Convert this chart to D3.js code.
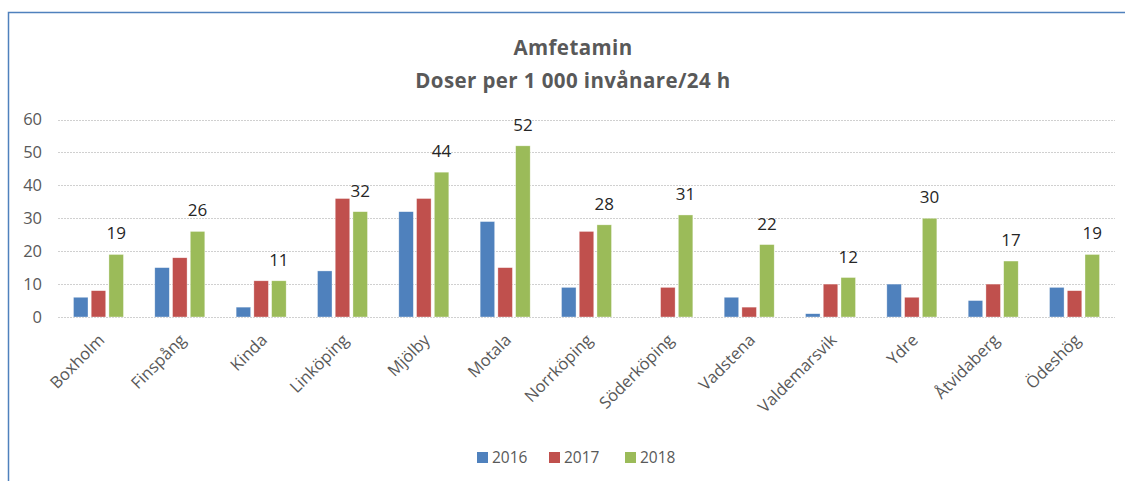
<!DOCTYPE html>
<html>
<head>
<meta charset="utf-8">
<script src="https://cdn.jsdelivr.net/npm/d3@7"></script>
<style>
  body { margin: 0; background: #fff; }
  svg { display: block; font-family: "Open Sans", sans-serif; }
</style>
</head>
<body>
<script>
// kommuner och värden (doser per 1 000 invånare/24 h)
var categories = ["Boxholm", "Finspång", "Kinda", "Linköping", "Mjölby", "Motala",
  "Norrköping", "Söderköping", "Vadstena", "Valdemarsvik", "Ydre", "Åtvidaberg", "Ödeshög"];
var years = ["2016", "2017", "2018"];
var v2016 = [6, 15, 3, 14, 32, 29, 9, 0, 6, 1, 10, 5, 9];
var v2017 = [8, 18, 11, 36, 36, 15, 26, 9, 3, 10, 6, 10, 8];
var v2018 = [19, 26, 11, 32, 44, 52, 28, 31, 22, 12, 30, 17, 19];
var yTicks = [0, 10, 20, 30, 40, 50, 60];
var colors = ["#4F81BD", "#C0504D", "#9BBB59"];

var series = [v2016, v2017, v2018];

var width = 1125, height = 481;
var margin = {left: 58, right: 10};

var svg = d3.select("body").append("svg")
  .attr("width", width)
  .attr("height", height);

// ram runt diagrammet (bara topp och vänster syns)
svg.append("path")
  .attr("d", "M8.5,481 L8.5,12.5 L1125,12.5")
  .attr("fill", "none")
  .attr("stroke", "#4F81BD")
  .attr("stroke-width", 1.5);

// titel
var title = svg.append("text")
  .attr("text-anchor", "middle")
  .attr("fill", "#595959")
  .attr("font-weight", "bold")
  .attr("font-size", 20.5)
  .attr("letter-spacing", 0.4);
title.append("tspan").attr("x", 573).attr("y", 55).text("Amfetamin");
title.append("tspan").attr("x", 573).attr("y", 88).text("Doser per 1 000 invånare/24 h");

var x0 = d3.scaleBand()
  .domain(categories)
  .range([margin.left, width - margin.right])
  .paddingInner(0.385)
  .paddingOuter(0.19);

var x1 = d3.scaleBand()
  .domain(years)
  .range([0, x0.bandwidth()])
  .paddingInner(0.18);

var y = d3.scaleLinear()
  .domain([0, 60])
  .range([317, 119.5]);

// rutnät
svg.append("g")
  .selectAll("line")
  .data(yTicks)
  .enter()
  .append("line")
  .attr("x1", margin.left)
  .attr("x2", 1115)
  .attr("y1", function(d) { return Math.round(y(d)) + 0.5; })
  .attr("y2", function(d) { return Math.round(y(d)) + 0.5; })
  .attr("stroke", "#d0d0d0")
  .attr("stroke-dasharray", "2,1");

// y-axel etiketter
var yAxis = d3.axisLeft(y).tickValues(yTicks).tickSize(0).tickPadding(0);
var gy = svg.append("g")
  .attr("transform", "translate(42,0)")
  .call(yAxis);
gy.select(".domain").remove();
gy.selectAll("text")
  .attr("fill", "#595959")
  .attr("font-size", 16.5)
  .attr("font-family", "Open Sans, sans-serif");

// staplar
var groups = svg.append("g")
  .selectAll("g")
  .data(categories)
  .enter()
  .append("g")
  .attr("transform", function(d) { return "translate(" + x0(d) + ",0)"; });

groups.selectAll("rect")
  .data(function(d, i) {
    return years.map(function(yr, k) { return {year: yr, value: series[k][i], k: k}; });
  })
  .enter()
  .append("rect")
  .attr("x", function(d) { return x1(d.year); })
  .attr("width", x1.bandwidth())
  .attr("y", function(d) { return y(d.value); })
  .attr("height", function(d) { return y(0) - y(d.value); })
  .attr("fill", function(d) { return colors[d.k]; })
  .attr("stroke", "#fff")
  .attr("stroke-opacity", 0.6)
  .attr("stroke-width", 0.6);

// dataetiketter för 2018
groups.append("text")
  .attr("x", function(d) { return x1("2018") + x1.bandwidth() / 2; })
  .attr("y", function(d, i) { return y(v2018[i]) - 15; })
  .attr("text-anchor", "middle")
  .attr("fill", "#262626")
  .attr("font-size", 17)
  .text(function(d, i) { return v2018[i]; });

// x-axel etiketter, roterade
var xAxis = d3.axisBottom(x0).tickSize(0).tickPadding(0);
var gx = svg.append("g")
  .attr("transform", "translate(3,337)")
  .call(xAxis);
gx.select(".domain").remove();
gx.selectAll("text")
  .attr("fill", "#595959")
  .attr("font-size", 16.5)
  .attr("font-family", "Open Sans, sans-serif")
  .attr("text-anchor", "end")
  .attr("dy", "0.35em")
  .attr("transform", "rotate(-45)");

// legend
var legendX = [477, 549, 625];
var legend = svg.append("g")
  .selectAll("g")
  .data(years)
  .enter()
  .append("g")
  .attr("transform", function(d, i) { return "translate(" + legendX[i] + ",452)"; });

legend.append("rect")
  .attr("width", 11)
  .attr("height", 11)
  .attr("fill", function(d, i) { return colors[i]; });

legend.append("text")
  .attr("x", 15)
  .attr("y", 11)
  .attr("fill", "#595959")
  .attr("font-size", 15.5)
  .text(function(d) { return d; });
</script>
</body>
</html>
